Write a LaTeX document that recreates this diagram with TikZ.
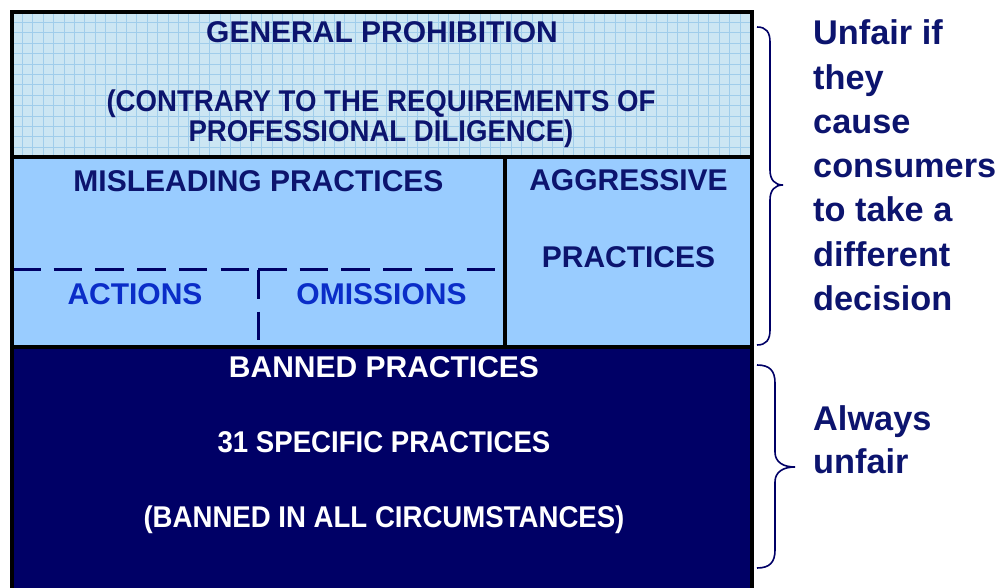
\documentclass[tikz,border=0pt]{standalone}
\usepackage{fontspec}
\setmainfont{Liberation Sans}
\newfontfamily\narrowsans[FakeStretch=0.92]{Liberation Sans}
\definecolor{navy}{RGB}{0,0,102}
\definecolor{txtnavy}{RGB}{12,20,110}
\definecolor{actblue}{RGB}{10,45,200}
\definecolor{topfill}{RGB}{204,230,243}
\definecolor{gridc}{RGB}{160,205,235}
\definecolor{midfill}{RGB}{153,204,255}
\begin{document}
\begin{tikzpicture}[x=1pt,y=-1pt,
  mainlbl/.style={font=\fontsize{30}{30}\selectfont\bfseries, inner sep=0pt, anchor=base},
  narrowlbl/.style={font=\narrowsans\fontsize{30}{30}\selectfont\bfseries, inner sep=0pt, anchor=base},
  sidelbl/.style={font=\fontsize{34.3}{34}\selectfont\bfseries, inner sep=0pt, anchor=base west, text=txtnavy},
  thickline/.style={line width=4pt, line cap=rect},
  dashline/.style={navy, line width=3pt, dash pattern=on 28.5pt off 13.2pt},
  bracel/.style={navy, line width=1.6pt}]
\useasboundingbox (0,0) rectangle (999,588);
\fill[white] (0,0) rectangle (999,588);
% fills
\fill[topfill] (12,12) rectangle (752,157);
\begin{scope}
  \clip (12,12) rectangle (752,157);
  \foreach \i in {0,...,72} \draw[gridc, line width=0.9pt] (12+10.4*\i,12) -- ++(0,145);
  \foreach \j in {0,...,14} \draw[gridc, line width=0.9pt] (12,12+10.4*\j) -- ++(740,0);
\end{scope}
\fill[midfill] (12,157) rectangle (752,347);
\fill[navy] (12,347) rectangle (752,590);
% dashed lines
\draw[dashline] (12,270) -- (258,270);
\draw[dashline] (258,270) -- (497,270);
\draw[dashline] (258,270) -- (258,342);
% borders
\draw[line width=4pt] (12,592) -- (12,12) -- (752,12) -- (752,592);
\draw[thickline] (12,157) -- (752,157);
\draw[thickline] (12,347) -- (752,347);
\draw[thickline] (505,157) -- (505,347);
% main texts
\node[mainlbl, text=txtnavy] (gp) at (382,43) {GENERAL PROHIBITION};
\node[narrowlbl, text=txtnavy] (gp2) at (381,112) {(CONTRARY TO THE REQUIREMENTS OF};
\node[narrowlbl, text=txtnavy] (gp3) at (381,142) {PROFESSIONAL DILIGENCE)};
\node[mainlbl, text=txtnavy] (mis) at (258.5,192) {MISLEADING PRACTICES};
\node[mainlbl, text=txtnavy] (agg) at (628.5,191) {AGGRESSIVE};
\node[mainlbl, text=txtnavy] (agg2) at (628.5,268) {PRACTICES};
\node[mainlbl, text=actblue] (act) at (135,304) {ACTIONS};
\node[mainlbl, text=actblue] (omi) at (381.5,304) {OMISSIONS};
\node[mainlbl, text=white] (ban) at (384,377) {BANNED PRACTICES};
\node[narrowlbl, text=white] (ban2) at (384,452) {31 SPECIFIC PRACTICES};
\node[narrowlbl, text=white] (ban3) at (384,527) {(BANNED IN ALL CIRCUMSTANCES)};
% braces
\draw[bracel] (757,27) .. controls (766,27) and (770,32) .. (770,42)
  -- (770,170) .. controls (770,180) and (775,185) .. (783,185)
  .. controls (775,185) and (770,190) .. (770,200)
  -- (770,330) .. controls (770,340) and (766,345) .. (757,345);
\draw[bracel] (757,365) .. controls (770,365) and (775,371) .. (775,383)
  -- (775,452) .. controls (775,462) and (783,467) .. (795,467)
  .. controls (783,467) and (775,472) .. (775,482)
  -- (775,550) .. controls (775,562) and (770,568) .. (757,568);
% side texts
\node[sidelbl] (s1) at (813,45) {Unfair if};
\node[sidelbl] (s2) at (813,89.2) {they};
\node[sidelbl] (s3) at (813,133.4) {cause};
\node[sidelbl] (s4) at (813,177.6) {consumers};
\node[sidelbl] (s5) at (813,221.8) {to take a};
\node[sidelbl] (s6) at (813,266) {different};
\node[sidelbl] (s7) at (813,310.2) {decision};
\node[sidelbl] (a1) at (813,430) {Always};
\node[sidelbl] (a2) at (813,473) {unfair};
\end{tikzpicture}
\end{document}
